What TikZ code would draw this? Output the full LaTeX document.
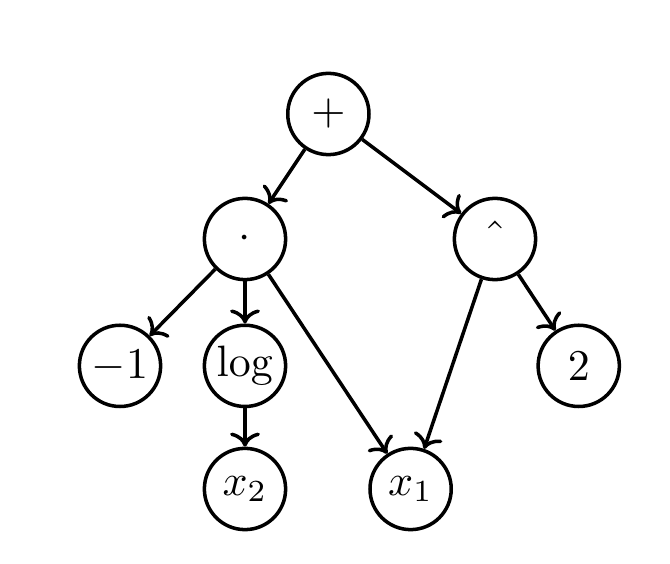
\documentclass[tikz,border=0pt]{standalone}
\usepackage{amsmath}
\usepackage{amssymb}
\usepackage{tikz}
\usetikzlibrary{arrows.meta}

\begin{document}
\begin{tikzpicture}[
	  op/.style={draw,circle,thick,minimum size=0.65cm,inner sep=1pt},
	  every path/.style={thick},
	  >={To[length=3.2pt,width=6.8pt]}
	]
		\useasboundingbox (-0.96,-0.6) rectangle (4.40,3.912);
		\node [name=plus,op] at (1.667,3.0) {$+$};
		\node [name=mul,op] at (1,2.0) {$\cdot$};
		\node [name=pow,op] at (3,2.0) {\large$\hat{}$};
		\node [name=neg,op] at (0,0.985) {$-1$};
		\node [name=lg,op] at (1,0.985) {$\log$};
		\node [name=two,op] at (3.67,0.985) {$2$};
		\node [name=xtwo,op] at (1,0) {$x_2$};
		\node [name=xone,op] at (2.325,0) {$x_1$};
		\foreach \a/\b in {plus/mul,plus/pow,mul/neg,mul/lg,mul/xone,lg/xtwo,pow/xone,pow/two}
			\draw [->] (\a) -- (\b);
	\end{tikzpicture}
\end{document}
